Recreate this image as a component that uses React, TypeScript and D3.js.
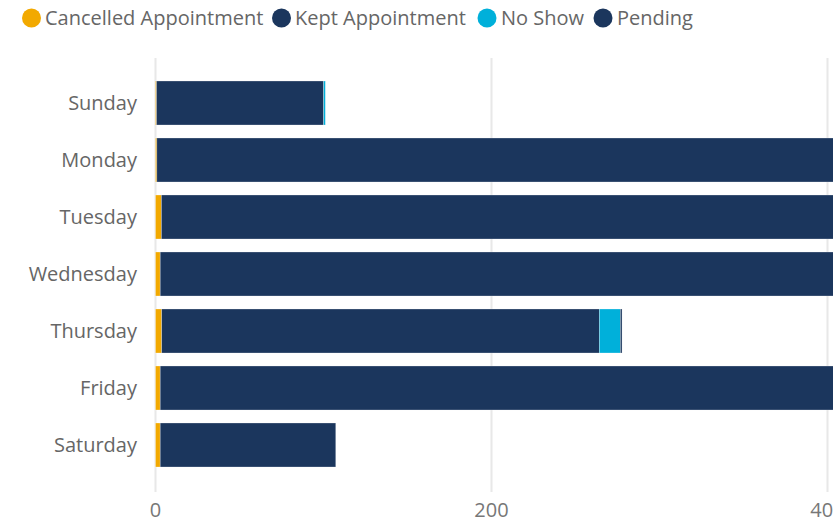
import React from "react";
import * as d3 from "d3";

const days = ["Sunday", "Monday", "Tuesday", "Wednesday", "Thursday", "Friday", "Saturday"];
const cancelled = [0.6, 0.8, 3.5, 2.8, 3.7, 2.8, 2.8];
const kept = [99.5, 430, 450, 440, 260.5, 420, 104.5];
const noShow = [1, 5, 8, 6, 12.5, 6, 0];
const pending = [0, 1, 1, 1, 1, 1, 0];
const seriesNames = ["Cancelled Appointment", "Kept Appointment", "No Show", "Pending"];
const seriesColors = ["#F2A900", "#1B365D", "#00B0DA", "#1B365D"];
const xTicks = [0, 200, 400];

const W = 833;
const H = 523;
const FONT = "'Segoe UI', 'Open Sans', 'Noto Sans', sans-serif";

export default function App() {
  const x = d3.scaleLinear().domain([0, 400]).range([155.5, 827.5]);
  const y = d3
    .scaleBand<string>()
    .domain(days)
    .range([74.5, 473.5])
    .paddingInner(0.228)
    .paddingOuter(0.114);

  const table = days.map((d, i) => ({
    day: d,
    s0: cancelled[i],
    s1: kept[i],
    s2: noShow[i],
    s3: pending[i],
  }));
  const stack = d3.stack<any>().keys(["s0", "s1", "s2", "s3"]);
  const layers = stack(table);

  const legendCircleX = [31.5, 281.5, 487, 603];
  const legendTextX = [45, 295, 501, 617];

  return (
    <svg
      width={W}
      height={H}
      style={{ position: "absolute", left: 0, top: 0, overflow: "hidden", background: "#fff" }}
      fontFamily={FONT}
    >
      {/* legend */}
      {seriesNames.map((name, i) => (
        <g key={name}>
          <circle cx={legendCircleX[i]} cy={18} r={9.5} fill={seriesColors[i]} />
          <text x={legendTextX[i]} y={18} dy="0.35em" fontSize={20} fill="#666">
            {name}
          </text>
        </g>
      ))}

      {/* gridlines */}
      {xTicks.map((t) => (
        <line key={t} x1={x(t)} x2={x(t)} y1={58} y2={492} stroke="#E8E8E8" strokeWidth={2} />
      ))}

      {/* bars */}
      {layers.map((layer, li) => (
        <g key={li} fill={seriesColors[li]}>
          {layer.map((seg, j) => {
            const w = x(seg[1]) - x(seg[0]);
            if (w <= 0) return null;
            return (
              <rect
                key={j}
                x={x(seg[0])}
                y={y(days[j])}
                width={w}
                height={y.bandwidth()}
                stroke="rgba(255,255,255,0.45)"
                strokeWidth={0.6}
              />
            );
          })}
        </g>
      ))}

      {/* category labels */}
      {days.map((d) => (
        <text
          key={d}
          x={137}
          y={(y(d) as number) + y.bandwidth() / 2}
          dy="0.35em"
          textAnchor="end"
          fontSize={20}
          fill="#666"
        >
          {d}
        </text>
      ))}

      {/* x tick labels */}
      {xTicks.map((t) => (
        <text key={t} x={x(t)} y={510} dy="0.35em" textAnchor="middle" fontSize={20} fill="#777">
          {d3.format("d")(t)}
        </text>
      ))}
    </svg>
  );
}
